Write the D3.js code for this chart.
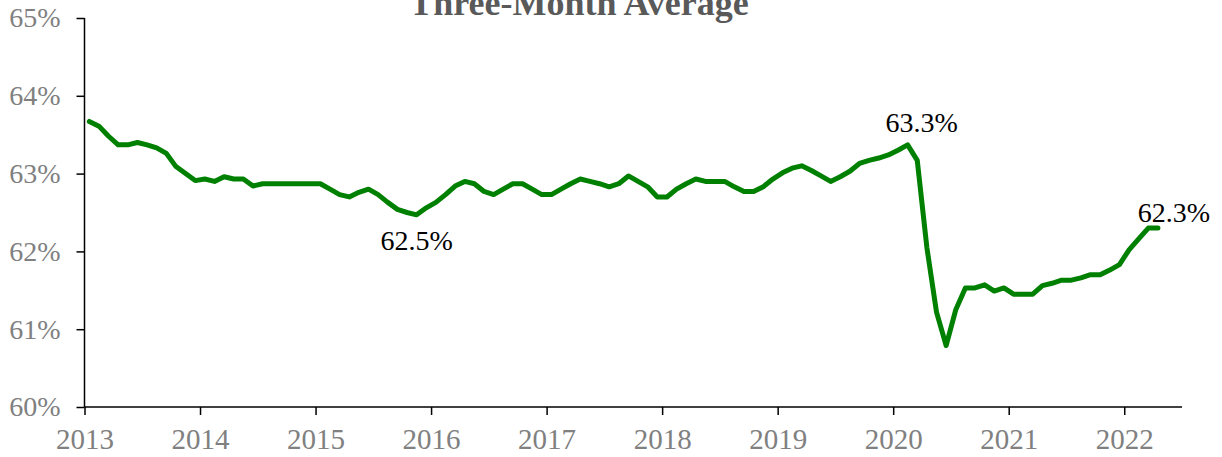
<!DOCTYPE html>
<html>
<head>
<meta charset="utf-8">
<script src="https://cdn.jsdelivr.net/npm/d3@7"></script>
<style>
  html, body { margin: 0; padding: 0; background: #fff; }
  svg { display: block; }
  text { font-family: "Liberation Serif", "Times New Roman", serif; }
</style>
</head>
<body>
<svg id="chart" width="1222" height="457"></svg>
<script>
// ---- data (monthly three-month average, Jan 2013 - Apr 2022) ----
const title = "Three-Month Average";
const startYear = 2013;
const values = [
  // 2013
  63.67, 63.61, 63.48, 63.37, 63.37, 63.40, 63.37, 63.33, 63.26, 63.09, 63.00, 62.91,
  // 2014
  62.93, 62.90, 62.96, 62.93, 62.93, 62.84, 62.87, 62.87, 62.87, 62.87, 62.87, 62.87,
  // 2015
  62.87, 62.80, 62.73, 62.70, 62.76, 62.80, 62.73, 62.63, 62.54, 62.50, 62.47, 62.56,
  // 2016
  62.63, 62.73, 62.84, 62.90, 62.87, 62.77, 62.73, 62.80, 62.87, 62.87, 62.80, 62.73,
  // 2017
  62.73, 62.80, 62.87, 62.93, 62.90, 62.87, 62.83, 62.87, 62.97, 62.90, 62.83, 62.70,
  // 2018
  62.70, 62.80, 62.87, 62.93, 62.90, 62.90, 62.90, 62.83, 62.77, 62.77, 62.83, 62.93,
  // 2019
  63.01, 63.07, 63.10, 63.04, 62.97, 62.90, 62.96, 63.03, 63.13, 63.17, 63.20, 63.24,
  // 2020
  63.30, 63.37, 63.17, 62.05, 61.22, 60.79, 61.25, 61.53, 61.53, 61.57, 61.49, 61.53,
  // 2021
  61.45, 61.45, 61.45, 61.56, 61.59, 61.63, 61.63, 61.66, 61.70, 61.70, 61.76, 61.83,
  // 2022
  62.02, 62.16, 62.30, 62.30
];
const yearTicks = [2013, 2014, 2015, 2016, 2017, 2018, 2019, 2020, 2021, 2022];
const yTicks = [60, 61, 62, 63, 64, 65];
const annotations = [
  { index: 34, text: "62.5%" },
  { index: 85, text: "63.3%" },
  { index: 111, text: "62.3%" }
];

// ---- layout ----
const svg = d3.select("#chart");
const mLeft = 84.5, mRight = 1182, mTop = 18, mBottom = 407;

const x = d3.scaleLinear().domain([2013, 2022.5]).range([mLeft, mRight]);
const y = d3.scaleLinear().domain([60, 65]).range([mBottom, mTop]);

const points = values.map((v, i) => ({ t: startYear + (i + 0.5) / 12, v }));

// title (partially clipped at top as in reference)
svg.append("text")
  .attr("x", 579).attr("y", 15)
  .attr("text-anchor", "middle")
  .attr("font-size", 36).attr("font-weight", "bold")
  .attr("fill", "#595959")
  .text(title);

// y axis
const yAxis = svg.append("g")
  .attr("transform", `translate(${mLeft},0)`)
  .call(d3.axisLeft(y).tickValues(yTicks).tickSize(8).tickPadding(16)
    .tickFormat(d => d + "%"));
yAxis.select(".domain").attr("stroke", "#000").attr("stroke-width", 1.5)
  .attr("d", `M0,${mTop}V${mBottom}`);
yAxis.selectAll(".tick line").attr("stroke", "#000").attr("stroke-width", 1.5);
yAxis.selectAll(".tick text")
  .attr("font-family", "Liberation Serif, Times New Roman, serif")
  .attr("font-size", 28).attr("fill", "#808080");

// x axis
const xAxis = svg.append("g")
  .attr("transform", `translate(0,${mBottom})`)
  .call(d3.axisBottom(x).tickValues(yearTicks).tickSize(8).tickPadding(13)
    .tickFormat(d3.format("d")));
xAxis.select(".domain").attr("stroke", "#000").attr("stroke-width", 1.5)
  .attr("d", `M${mLeft},0H${mRight}`);
xAxis.selectAll(".tick line").attr("stroke", "#000").attr("stroke-width", 1.5);
xAxis.selectAll(".tick text")
  .attr("font-family", "Liberation Serif, Times New Roman, serif")
  .attr("font-size", 29).attr("fill", "#808080");

// line
const line = d3.line().x(d => x(d.t)).y(d => y(d.v));
svg.append("path")
  .datum(points)
  .attr("d", line)
  .attr("fill", "none")
  .attr("stroke", "#008000")
  .attr("stroke-width", 5)
  .attr("stroke-linejoin", "round")
  .attr("stroke-linecap", "round");

// annotations
const annPos = {
  34: { dx: 0, y: 250 },
  85: { dx: 14, y: 132 },
  111: { dx: 16, y: 222 }
};
annotations.forEach(a => {
  const p = points[a.index];
  const pos = annPos[a.index];
  svg.append("text")
    .attr("x", x(p.t) + pos.dx)
    .attr("y", pos.y)
    .attr("text-anchor", "middle")
    .attr("font-size", 28)
    .attr("fill", "#000")
    .text(a.text);
});
</script>
</body>
</html>
